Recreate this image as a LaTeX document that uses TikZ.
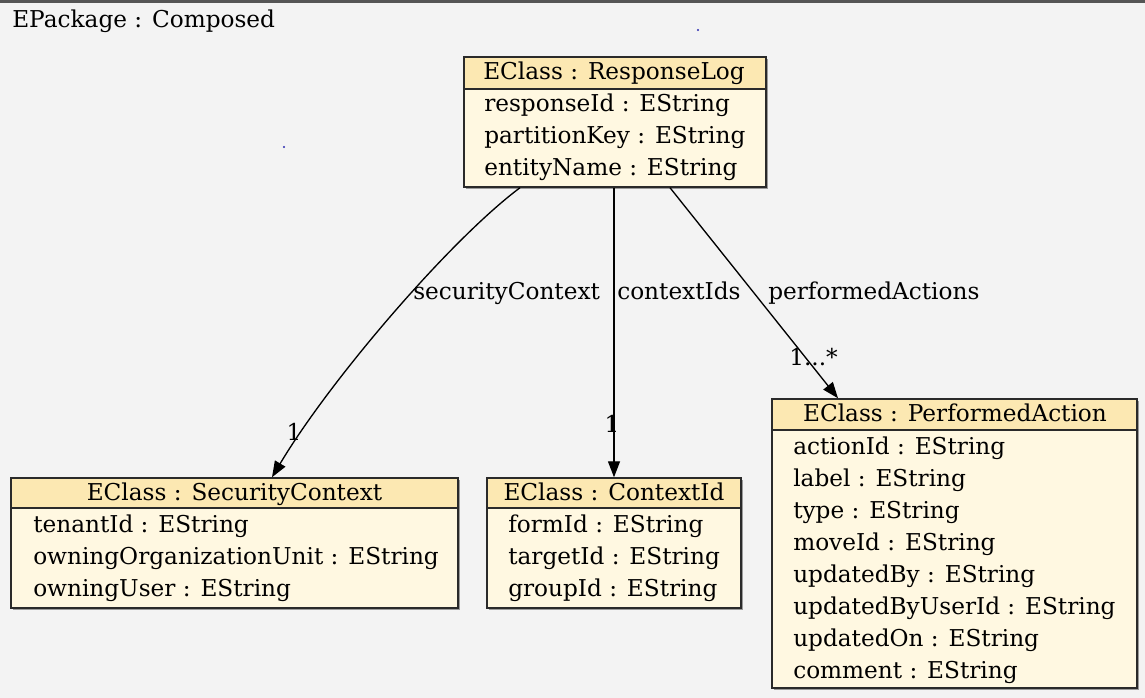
\documentclass[tikz,border=0pt]{standalone}
\usepackage{fontspec}
\setmainfont{DejaVu Serif}
\usetikzlibrary{fit,arrows.meta}
\definecolor{bgcol}{HTML}{F3F3F3}
\definecolor{framecol}{HTML}{555555}
\definecolor{hdrcol}{HTML}{FCE8B2}
\definecolor{bodycol}{HTML}{FFF8E1}
\definecolor{boxline}{HTML}{2A2A2A}
\definecolor{shadowcol}{HTML}{9A9A9A}
\definecolor{dotcol}{HTML}{2A2AB0}
\newcommand{\dfont}{\fontsize{17.4}{20}\selectfont}
\begin{document}
\begin{tikzpicture}[x=0.75pt,y=-0.75pt,
  classbox/.style={draw=boxline, line width=1.1pt, fill=bodycol, inner sep=0pt,
    preaction={fill=shadowcol, transform canvas={shift={(1.3pt,-1.3pt)}}}},
  hdrbox/.style={draw=boxline, line width=1.1pt, fill=hdrcol, inner sep=0pt},
  ttl/.style={font=\dfont, inner sep=0pt, anchor=base},
  attr/.style={font=\dfont, inner sep=0pt, anchor=base west},
  elbl/.style={font=\dfont, inner sep=0pt, anchor=base west},
  mult/.style={font=\dfont, inner sep=0pt, anchor=base},
  conn/.style={line width=1pt, -{Triangle[length=12pt,width=9pt]}}
]
\fill[bgcol] (0,0) rectangle (1145,698);
\useasboundingbox (0,0) rectangle (1145,698);
\fill[framecol] (0,0) rectangle (1145,3);
\fill[dotcol] (698,30) circle (1.2);
\fill[dotcol] (284,147) circle (1.2);

\node[elbl] (pkg) at (12,28) {EPackage : Composed};

% ResponseLog
\node[classbox, fit={(464,57) (766,187)}] (rl) {};
\node[hdrbox, fit={(464,57) (766,89)}] (rlh) {};
\node[ttl] (rlt) at (614,80) {EClass : ResponseLog};
\node[attr] (rl1) at (484,112) {responseId : EString};
\node[attr] (rl2) at (484,144) {partitionKey : EString};
\node[attr] (rl3) at (484,176) {entityName : EString};

% SecurityContext
\node[classbox, fit={(11,478) (458,608)}] (sc) {};
\node[hdrbox, fit={(11,478) (458,508)}] (sch) {};
\node[ttl] (sct) at (234.5,500) {EClass : SecurityContext};
\node[attr] (sc1) at (33,532) {tenantId : EString};
\node[attr] (sc2) at (33,564) {owningOrganizationUnit : EString};
\node[attr] (sc3) at (33,596) {owningUser : EString};

% ContextId
\node[classbox, fit={(487,478) (741,608)}] (ci) {};
\node[hdrbox, fit={(487,478) (741,508)}] (cih) {};
\node[ttl] (cit) at (614,500) {EClass : ContextId};
\node[attr] (ci1) at (508,532) {formId : EString};
\node[attr] (ci2) at (508,564) {targetId : EString};
\node[attr] (ci3) at (508,596) {groupId : EString};

% PerformedAction
\node[classbox, fit={(772,399) (1137,688)}] (pa) {};
\node[hdrbox, fit={(772,399) (1137,430)}] (pah) {};
\node[ttl] (pat) at (955,421) {EClass : PerformedAction};
\node[attr] (pa1) at (793,454) {actionId : EString};
\node[attr] (pa2) at (793,486) {label : EString};
\node[attr] (pa3) at (793,518) {type : EString};
\node[attr] (pa4) at (793,550) {moveId : EString};
\node[attr] (pa5) at (793,582) {updatedBy : EString};
\node[attr] (pa6) at (793,614) {updatedByUserId : EString};
\node[attr] (pa7) at (793,646) {updatedOn : EString};
\node[attr] (pa8) at (793,678) {comment : EString};

% connectors
\draw[conn] (rl.south -| 520,0) .. controls (450,240) and (330,380) .. (sch.north -| 272,0);
\draw[conn] (rl.south -| 614,0) -- (cih.north -| 614,0);
\draw[conn] (rl.south -| 670,0) -- (pah.north -| 838,0);

\node[elbl] (l1) at (413,300) {securityContext};
\node[elbl] (l2) at (617,300) {contextIds};
\node[elbl] (l3) at (768,300) {performedActions};
\node[mult] (m1) at (294,440) {1};
\node[mult] (m2) at (612,432) {1};
\node[elbl] (m3) at (789,365) {1...*};
\end{tikzpicture}
\end{document}
